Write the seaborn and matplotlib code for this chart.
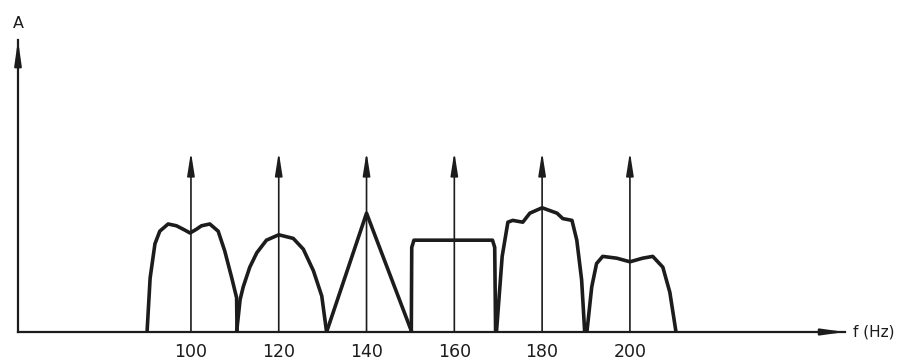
import matplotlib
matplotlib.use("Agg")
import matplotlib.pyplot as plt
import seaborn as sns
import pandas as pd

# ---- data ----
carriers = [100, 120, 140, 160, 180, 200]
carrier_amp = [1.0, 1.0, 1.0, 1.0, 1.0, 1.0]
tick_labels = ["100", "120", "140", "160", "180", "200"]

band_100_f = [90.0, 90.7, 91.8, 92.9, 94.8, 96.7, 98.3, 99.8, 101.2, 102.4, 104.3, 106.2, 107.7, 109.3, 110.4, 110.5]
band_100_a = [0.0, 0.30, 0.49, 0.56, 0.60, 0.59, 0.57, 0.55, 0.57, 0.59, 0.60, 0.56, 0.45, 0.30, 0.19, 0.0]

band_120_f = [110.4, 111.2, 111.9, 113.4, 115.0, 117.2, 120.0, 123.3, 125.6, 127.9, 129.8, 130.9]
band_120_a = [0.0, 0.18, 0.25, 0.36, 0.44, 0.51, 0.54, 0.52, 0.46, 0.34, 0.20, 0.0]

band_140_f = [130.9, 140.0, 150.3]
band_140_a = [0.0, 0.66, 0.0]

band_160_f = [150.2, 150.3, 150.8, 168.7, 169.2, 169.4]
band_160_a = [0.0, 0.47, 0.51, 0.51, 0.47, 0.0]

band_180_f = [169.6, 170.9, 172.2, 173.3, 175.6, 177.2, 180.0, 183.4, 184.7, 186.8, 187.9, 189.0, 189.7]
band_180_a = [0.0, 0.42, 0.61, 0.62, 0.61, 0.66, 0.69, 0.66, 0.63, 0.62, 0.51, 0.29, 0.0]

band_200_f = [190.2, 191.3, 192.4, 193.8, 197.0, 200.0, 202.9, 205.2, 207.5, 209.1, 210.5]
band_200_a = [0.0, 0.25, 0.38, 0.42, 0.41, 0.39, 0.41, 0.42, 0.36, 0.22, 0.0]

x_label = "f (Hz)"
y_label = "A"

# ---- build long-form table ----
bands = {
    "100": (band_100_f, band_100_a),
    "120": (band_120_f, band_120_a),
    "140": (band_140_f, band_140_a),
    "160": (band_160_f, band_160_a),
    "180": (band_180_f, band_180_a),
    "200": (band_200_f, band_200_a),
}
rows = []
for name, (fs, amps) in bands.items():
    for i, (f, a) in enumerate(zip(fs, amps)):
        rows.append({"band": name, "order": i, "f": f, "A": a})
df = pd.DataFrame(rows)

sns.set_style("white")
plt.rcParams["font.family"] = ["DejaVu Sans"]

ink = "#1c1c1c"
W, H = 915, 362
fig = plt.figure(figsize=(W / 100, H / 100), dpi=100)
left_px, right_px, base_px, top_px = 18, 845, 332, 40
ax = fig.add_axes([left_px / W, (H - base_px) / H,
                   (right_px - left_px) / W, (base_px - top_px) / H])

sns.lineplot(data=df, x="f", y="A", units="band", estimator=None, sort=False,
             color=ink, lw=2.6, legend=False, ax=ax,
             solid_joinstyle="round", solid_capstyle="round")

# carrier impulses
for f, a in zip(carriers, carrier_amp):
    ax.annotate("", xy=(f, a), xytext=(f, 0),
                arrowprops=dict(arrowstyle="-|>,head_length=1.4,head_width=0.22",
                                lw=1.2, color=ink, shrinkA=0, shrinkB=0))

ax.set_xlim(60.6, 249.0)
ax.set_ylim(0, 1.622)

for s in ["top", "right"]:
    ax.spines[s].set_visible(False)
for s in ["left", "bottom"]:
    ax.spines[s].set_color(ink)
    ax.spines[s].set_linewidth(1.6)

# axis arrowheads
ax.annotate("", xy=(1.0, 0), xytext=(0.97, 0), xycoords="axes fraction",
            arrowprops=dict(arrowstyle="-|>,head_length=1.3,head_width=0.18",
                            lw=1.6, color=ink, shrinkA=0, shrinkB=0))
ax.annotate("", xy=(0, 1.0), xytext=(0, 0.93), xycoords="axes fraction",
            arrowprops=dict(arrowstyle="-|>,head_length=1.4,head_width=0.2",
                            lw=1.6, color=ink, shrinkA=0, shrinkB=0))

ax.set_xticks(carriers)
ax.set_xticklabels(tick_labels, fontsize=12.5, color=ink)
ax.set_yticks([])
ax.tick_params(axis="x", length=0, pad=8)
ax.set_xlabel("")
ax.set_ylabel("")

fig.text(18 / W, 1 - 23 / H, y_label, ha="center", va="center",
         fontsize=11.5, color=ink)
fig.text(853 / W, 1 - 332 / H, x_label, ha="left", va="center",
         fontsize=11, color=ink)

fig.savefig("out.png", dpi=100, facecolor="white")
